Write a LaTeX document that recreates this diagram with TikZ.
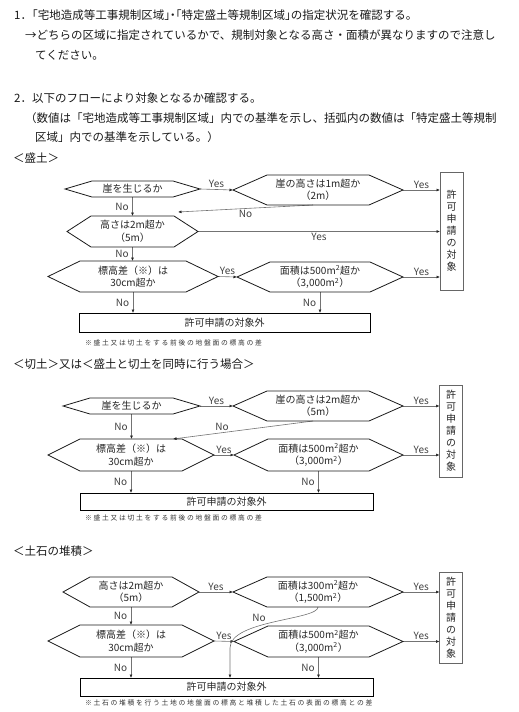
\documentclass[tikz,border=0pt]{standalone}
\usepackage{fontspec}
\setmainfont{Noto Sans CJK JP}
\newfontfamily\notefont[LetterSpace=25]{Noto Sans CJK JP}
\usetikzlibrary{arrows.meta,positioning,calc}
\newcommand\halfw[1]{{\addfontfeatures{RawFeature=+halt}#1}}
\tikzset{
  head/.style={anchor=west,inner sep=0pt,text=black!90,font=\fontsize{11.5}{14}\selectfont},
  note/.style={anchor=west,inner sep=0pt,text=black!80,font=\notefont\fontsize{6.8}{8}\selectfont},
  ask/.style 2 args={rectangle,inner sep=0pt,outer sep=0pt,align=center,
    minimum width=#1pt,minimum height=#2pt,text=black!85,font=\fontsize{10}{12.5}\selectfont},
  goal/.style={draw=black!60,line width=.8pt,inner sep=0pt,outer sep=0pt,align=center,
    minimum width=23pt,minimum height=#1pt,text=black!85,font=\fontsize{10}{12}\selectfont},
  outside/.style={draw=black,line width=.8pt,inner sep=0pt,outer sep=0pt,
    minimum width=293pt,minimum height=#1pt,text=black!85,font=\fontsize{10}{12}\selectfont},
  link/.style={draw=black!55,line width=.6pt,-{Latex[length=3.5pt,width=3pt,color=black!85]}},
  yn/.style={font=\fontsize{10}{12}\selectfont,text=black!75,inner sep=1.5pt},
  hexline/.style={draw=black!90,line width=.8pt}
}
\begin{document}
\begin{tikzpicture}[x=1pt,y=-1pt]
  \useasboundingbox (0,0) rectangle (519,712);
  % introduction
  \node[head] (l1) at (14,15) {1．\halfw{「}宅地造成等工事規制区域\halfw{」・「}特定盛土等規制区域\halfw{」}の指定状況を確認する。};
  \node[head] (l2) at (25,35) {→どちらの区域に指定されているかで、規制対象となる高さ・面積が異なりますので注意し};
  \node[head] (l3) at (35,55) {てください。};
  \node[head] (l4) at (14,98) {2．以下のフローにより対象となるか確認する。};
  \node[head] (l5) at (25,118) {（数値は「宅地造成等工事規制区域」内での基準を示し、括弧内の数値は「特定盛土等規制};
  \node[head] (l6) at (35,137) {区域」内での基準を示している。）};

  % ---- mori-do
  \node[head] (s1) at (13,158) {＜盛土＞};
  \node[ask={135}{16}] (m1) at (132.5,189) {崖を生じるか};
  \node[ask={170}{30}] (m2) at (318,190) {崖の高さは1m超か\\（2m）};
  \node[ask={131}{31}] (m3) at (132.5,231.5) {高さは2m超か\\（5m）};
  \node[ask={170}{31}] (m4) at (133,276.5) {標高差（※）は\\30cm超か};
  \node[ask={166}{30}] (m5) at (320,277) {面積は500m\textsuperscript{2}超か\\（3,000m\textsuperscript{2}）};
  \node[goal=118] (t1) at (451.5,231) {許\\可\\申\\請\\の\\対\\象};
  \node[outside=19,minimum width=291pt] (o1) at (224.5,322.5) {許可申請の対象外};
  \node[note] (n1) at (85,343) {※盛土又は切土をする前後の地盤面の標高の差};

  \draw[link] (m1.east) -- node[yn,above]{Yes} (m2.west);
  \draw[link] (m2.east) -- node[yn,above]{Yes} (m2.east -| t1.west);
  \draw[link] (m3.east) -- node[yn,below]{Yes} (m3.east -| t1.west);
  \draw[link] (m4.east) -- node[yn,above]{Yes} (m5.west);
  \draw[link] (m5.east) -- node[yn,above]{Yes} (m5.east -| t1.west);
  \draw[link] (m1.south) -- node[yn,left=2pt]{No} (m1.south |- m3.north);
  \draw[link] (m3.south) -- node[yn,left=2pt]{No} (m3.south |- m4.north);
  \draw[link] (m4.south) -- node[yn,left=2pt]{No} (m4.south |- o1.north);
  \draw[link] (m5.south) -- node[yn,left=2pt]{No} (m5.south |- o1.north);
  \draw[link] ($(m2.south)+(-5,0)$) -- node[yn,below]{No} ($(m3.north)+(45.5,-4)$);

  % ---- kiri-do
  \node[head] (s2) at (13,364) {＜切土＞又は＜盛土と切土を同時に行う場合＞};
  \node[ask={137}{16}] (k1) at (131.5,406) {崖を生じるか};
  \node[ask={170}{30}] (k2) at (318,406) {崖の高さは2m超か\\（5m）};
  \node[ask={166}{32}] (k3) at (131,455) {標高差（※）は\\30cm超か};
  \node[ask={169}{32}] (k4) at (318.5,455) {面積は500m\textsuperscript{2}超か\\（3,000m\textsuperscript{2}）};
  \node[goal=92] (t2) at (451,431) {許\\可\\申\\請\\の\\対\\象};
  \node[outside=17] (o2) at (226.5,501.5) {許可申請の対象外};
  \node[note] (n2) at (85,518) {※盛土又は切土をする前後の地盤面の標高の差};

  \draw[link] (k1.east) -- node[yn,above]{Yes} (k2.west);
  \draw[link] (k2.east) -- node[yn,above]{Yes} (k2.east -| t2.west);
  \draw[link] (k3.east) -- node[yn,above]{Yes} (k4.west);
  \draw[link] (k4.east) -- node[yn,above]{Yes} (k4.east -| t2.west);
  \draw[link] (k1.south) -- node[yn,left=2pt]{No} (k1.south |- k3.north);
  \draw[link] (k3.south) -- node[yn,left=2pt]{No} (k3.south |- o2.north);
  \draw[link] (k4.south) -- node[yn,left=2pt]{No} (k4.south |- o2.north);
  \draw[link] ($(k2.south)+(-5,0)$) -- node[yn,pos=.65,above]{No} ($(k3.north)+(42,0)$);

  % ---- doseki
  \node[head] (s3) at (13,551) {＜土石の堆積＞};
  \node[ask={136}{30}] (d1) at (131,592) {高さは2m超か\\（5m）};
  \node[ask={170}{30}] (d2) at (318,592) {面積は300m\textsuperscript{2}超か\\（1,500m\textsuperscript{2}）};
  \node[ask={166}{32}] (d3) at (131,641) {標高差（※）は\\30cm超か};
  \node[ask={169}{31}] (d4) at (318.5,641.5) {面積は500m\textsuperscript{2}超か\\（3,000m\textsuperscript{2}）};
  \node[goal=91] (t3) at (451,617.5) {許\\可\\申\\請\\の\\対\\象};
  \node[outside=18] (o3) at (226.5,687) {許可申請の対象外};
  \node[note] (n3) at (85,703) {※土石の堆積を行う土地の地盤面の標高と堆積した土石の表面の標高との差};
  \coordinate (c3) at ($(d3.east)+(16,7)$);

  \draw[link] (d1.east) -- node[yn,above]{Yes} (d2.west);
  \draw[link] (d2.east) -- node[yn,above]{Yes} (d2.east -| t3.west);
  \draw[link] (d3.east) -- node[yn,above]{Yes} (d4.west);
  \draw[link] (d4.east) -- node[yn,above]{Yes} (d4.east -| t3.west);
  \draw[link] (d1.south) -- node[yn,left=2pt]{No} (d1.south |- d3.north);
  \draw[link] (d3.south) -- node[yn,left=2pt]{No} (d3.south |- o3.north);
  \draw[link] (d4.south) -- node[yn,left=2pt]{No} (d4.south |- o3.north);
  \draw[link] (d2.south) .. controls ($(d2.south)+(0,13)$) and ($(c3)+(0,-28)$) .. node[yn,pos=.55,above left]{No} (c3) -- (c3 |- o3.north);

  % hexagon outlines
  \foreach \n/\c in {m1/27,m2/34,m3/24,m4/32,m5/33,k1/27,k2/34,k3/32,k4/34,d1/27,d2/34,d3/32,d4/34}
    \draw[hexline] ($(\n.north west)+(\c,0)$) -- ($(\n.north east)+(-\c,0)$) -- (\n.east)
      -- ($(\n.south east)+(-\c,0)$) -- ($(\n.south west)+(\c,0)$) -- (\n.west) -- cycle;
\end{tikzpicture}
\end{document}
